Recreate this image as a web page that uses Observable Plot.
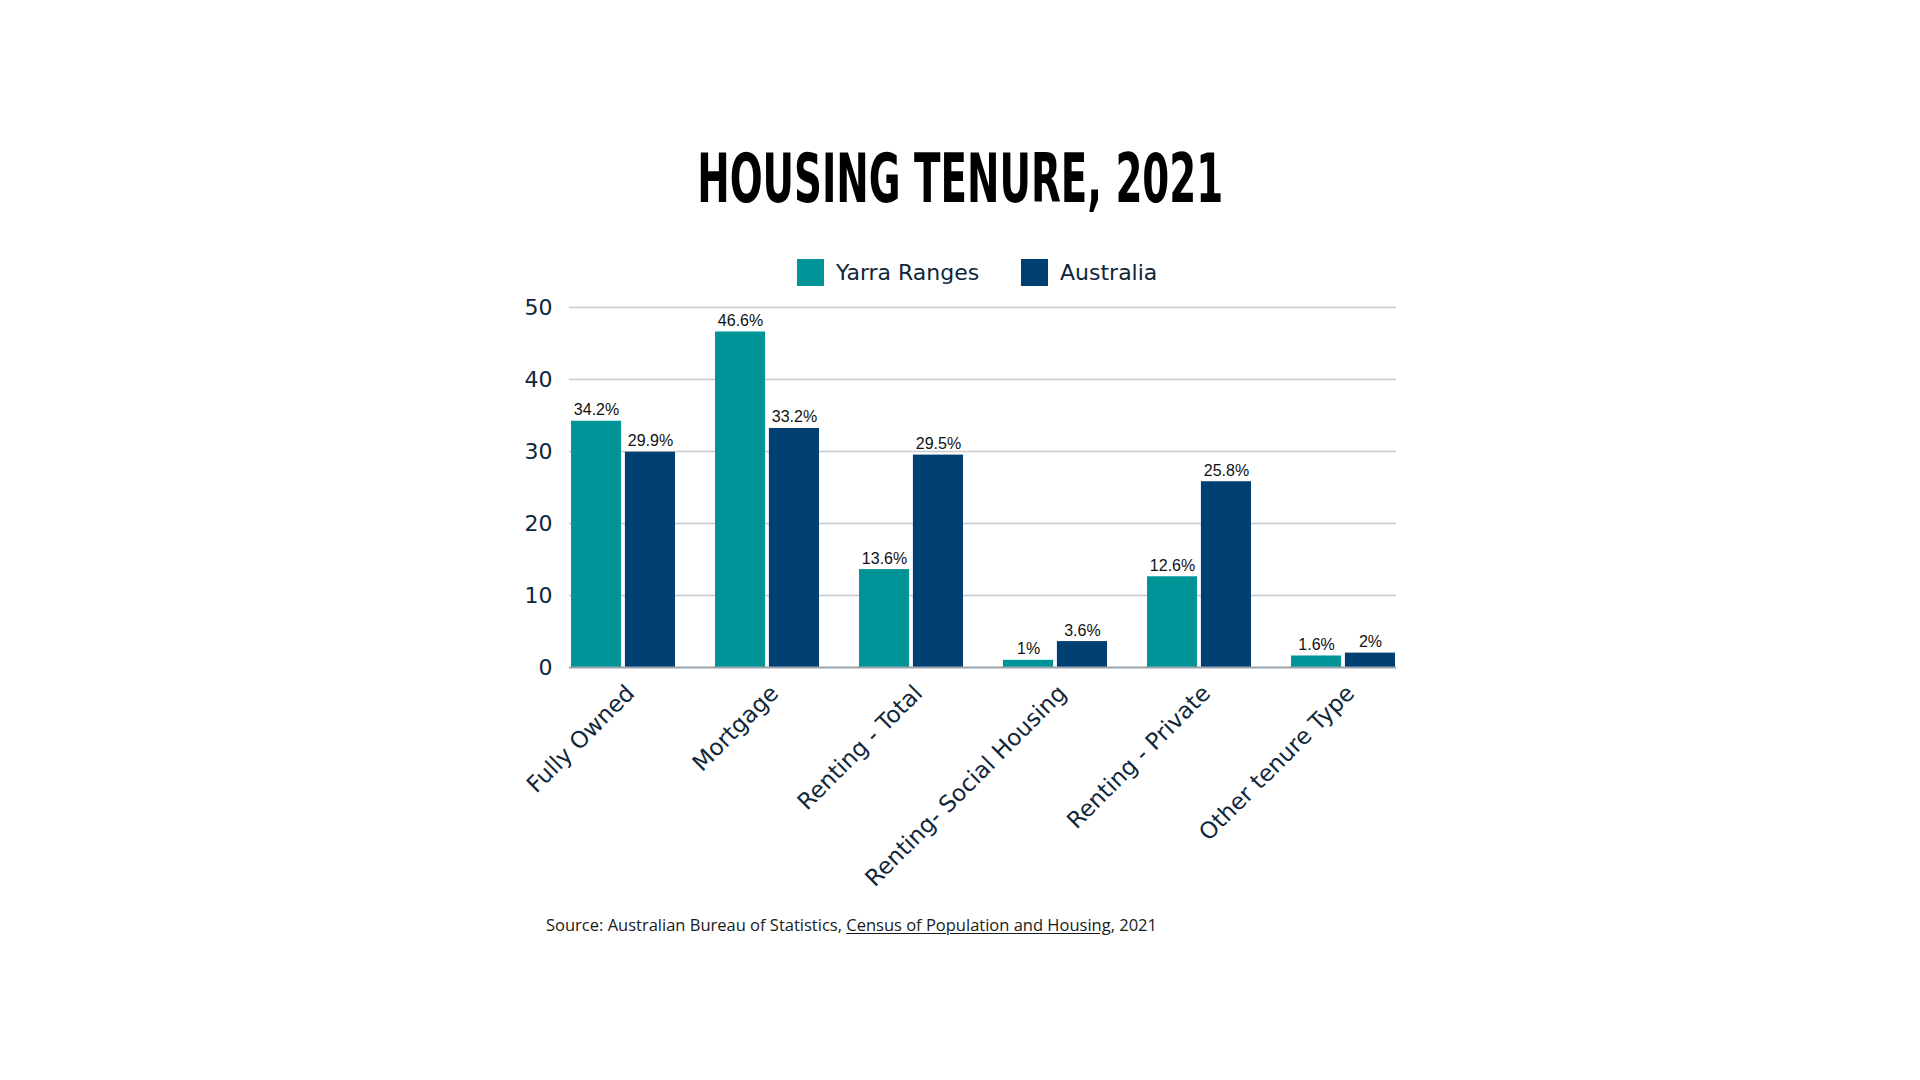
<!DOCTYPE html>
<html>
<head>
<meta charset="utf-8">
<script src="https://cdn.jsdelivr.net/npm/d3@7"></script>
<script src="https://cdn.jsdelivr.net/npm/@observablehq/plot@0.6"></script>
<style>
  html, body { margin: 0; padding: 0; background: #ffffff; }
  body { width: 1920px; height: 1080px; position: relative; overflow: hidden; }
  #title { position: absolute; left: 0; width: 1920px; top: 145px; text-align: center; }
  #title span { display: inline-block; font-family: "DejaVu Sans Condensed", "DejaVu Sans", sans-serif; font-stretch: condensed; font-weight: 900; font-size: 68px; line-height: 68px; color: #000; white-space: nowrap; transform-origin: 50% 50%; }
  .leg { position: absolute; top: 259px; font-family: "DejaVu Sans", sans-serif; font-size: 22px; color: #10263a; line-height: 27px; white-space: nowrap; }
  .sw { position: absolute; top: 259px; width: 27px; height: 27px; }
  #chart { position: absolute; left: 0; top: 280px; }
  #source { position: absolute; left: 546px; top: 913px; font-family: "Open Sans", "Noto Sans", sans-serif; font-size: 16.5px; color: #1a1a1a; white-space: nowrap; }
  #source u { text-decoration: underline; text-underline-offset: 2px; }
</style>
</head>
<body>
<div id="title"><span id="titleText">HOUSING TENURE, 2021</span></div>
<div class="sw" id="sw1"></div><div class="leg" id="lg1"></div>
<div class="sw" id="sw2"></div><div class="leg" id="lg2"></div>
<div id="chart"></div>
<div id="source">Source: Australian Bureau of Statistics, <u>Census of Population and Housing</u>, 2021</div>
<script>
// ---- data ----
const categories = ["Fully Owned", "Mortgage", "Renting - Total", "Renting- Social Housing", "Renting - Private", "Other tenure Type"];
const seriesNames = ["Yarra Ranges", "Australia"];
const yarraRanges = [34.2, 46.6, 13.6, 1, 12.6, 1.6];
const australia = [29.9, 33.2, 29.5, 3.6, 25.8, 2];
const yTicks = [0, 10, 20, 30, 40, 50];

// ---- style ----
const teal = "#009499";
const navy = "#003f72";
const textNavy = "#10263a";

const rows = categories.map((c, i) => ({category: c, yarra: yarraRanges[i], australia: australia[i]}));

// legend
document.getElementById("sw1").style.cssText += `left:797px;background:${teal};`;
document.getElementById("sw2").style.cssText += `left:1021px;background:${navy};`;
const lg1 = document.getElementById("lg1"); lg1.textContent = seriesNames[0]; lg1.style.left = "836px";
const lg2 = document.getElementById("lg2"); lg2.textContent = seriesNames[1]; lg2.style.left = "1060px";

// layout
const W = 1920, mL = 569, mR = 524, mT = 27, mB = 230, plotH = 360;
const pInner = 0.28, gap = 3.7;
const bw = (W - mL - mR) / (categories.length - pInner) * (1 - pInner);
const half = (bw - gap) / 2;
const off = gap / 2 + half / 2;

const chart = Plot.plot({
  width: W,
  height: mT + plotH + mB,
  marginLeft: mL, marginRight: mR, marginTop: mT, marginBottom: mB,
  style: {background: "transparent", overflow: "visible"},
  x: {domain: categories, paddingInner: pInner, paddingOuter: 0, label: null},
  y: {domain: [0, 50], label: null},
  marks: [
    Plot.gridY(yTicks.filter(d => d > 0), {stroke: "#cbcbcb", strokeOpacity: 1, strokeWidth: 1.4}),
    Plot.barY(rows, {x: "category", y: "yarra", fill: teal, insetRight: bw / 2 + gap / 2}),
    Plot.barY(rows, {x: "category", y: "australia", fill: navy, insetLeft: bw / 2 + gap / 2}),
    Plot.ruleY([0], {stroke: "#9aa3ab", strokeWidth: 2}),
    Plot.text(rows, {x: "category", y: "yarra", text: d => d.yarra + "%", dx: -off, dy: -6, lineAnchor: "bottom", fontSize: 16, fontFamily: "Liberation Sans, Arial, sans-serif", fill: "#111"}),
    Plot.text(rows, {x: "category", y: "australia", text: d => d.australia + "%", dx: off, dy: -6, lineAnchor: "bottom", fontSize: 16, fontFamily: "Liberation Sans, Arial, sans-serif", fill: "#111"}),
    Plot.axisY({ticks: yTicks, tickSize: 0, tickPadding: 17, fontSize: 22, fontFamily: "DejaVu Sans, sans-serif", fill: textNavy, label: null}),
    Plot.axisX({tickRotate: -45, tickSize: 0, tickPadding: 22, dx: 7, fontSize: 23, fontFamily: "DejaVu Sans, sans-serif", fill: textNavy, label: null})
  ]
});
document.getElementById("chart").appendChild(chart);

// fit title width to reference
const t = document.getElementById("titleText");
const w = t.getBoundingClientRect().width;
t.style.transform = `scaleX(${526 / w})`;
</script>
</body>
</html>
